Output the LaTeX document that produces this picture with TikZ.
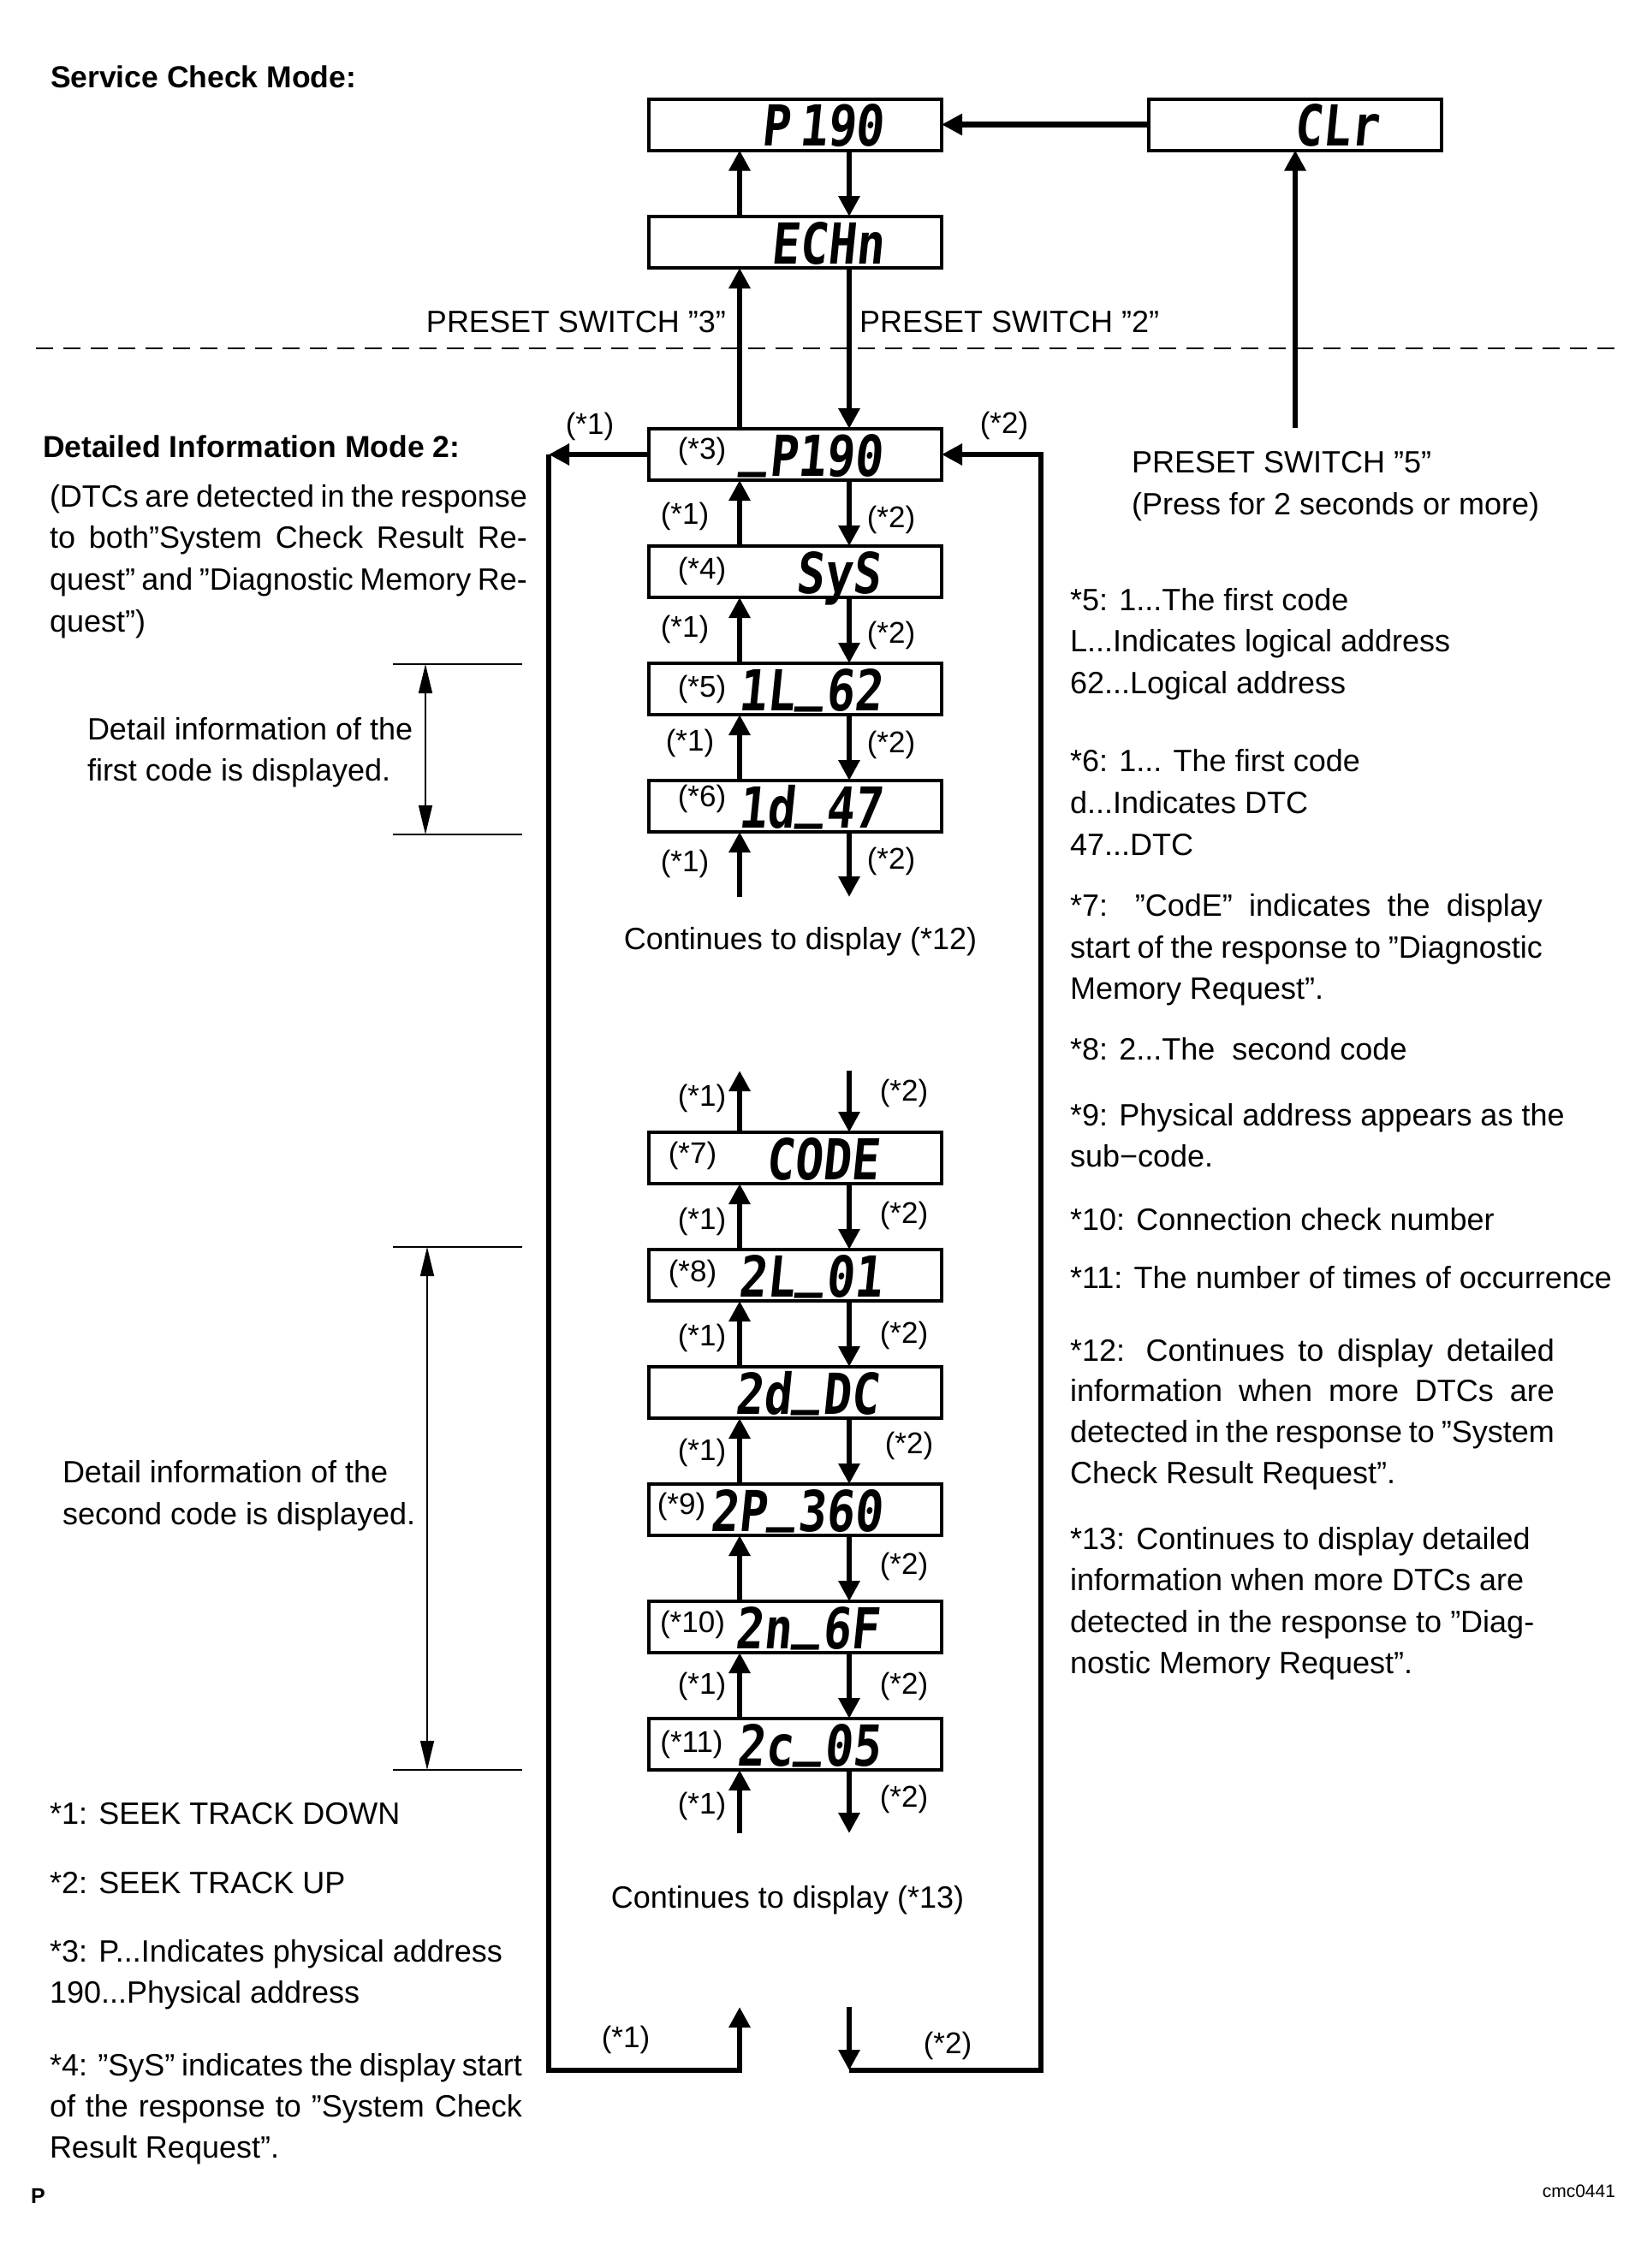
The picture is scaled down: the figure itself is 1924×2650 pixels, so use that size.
\documentclass[tikz,border=0pt]{standalone}
\usepackage{fontspec}
\setmainfont{Liberation Sans}
\newfontfamily\segfont[FakeSlant=0.1,FakeStretch=0.83]{DejaVu Sans Mono}
\usetikzlibrary{arrows.meta,calc}
\newcommand{\jline}[2]{\makebox[#1][s]{#2}}
\newcommand{\segthree}[5]{%
  \node[seg] (#1c) at (#2,#3) {#5};
  \node[seg] (#1b) at ($(#1c.base west)+(-1.5,-14)$) {\_};
  \node[seg] (#1a) at ($(#1b.base west)+(-1.5,14)$) {#4};}
\begin{document}
\begin{tikzpicture}[x=1pt,y=-1pt,
  every node/.style={inner sep=0pt,outer sep=0pt},
  body/.style={font=\fontsize{36}{43}\selectfont},
  tl/.style={body,anchor=base west},
  tr/.style={body,anchor=base east},
  tc/.style={body,anchor=base},
  hd/.style={font=\bfseries\fontsize{35.5}{43}\selectfont,anchor=base west},
  lbl/.style={font=\fontsize{35}{42}\selectfont,anchor=center},
  disp/.style={draw,line width=4pt,minimum width=342pt,minimum height=60pt},
  seg/.style={font=\segfont\bfseries\fontsize{66}{66}\selectfont,anchor=base east},
  arr/.style={line width=6.5pt,-{Triangle[length=24pt,width=24pt]}},
  wire/.style={line width=6.5pt,line join=miter},
  thinl/.style={line width=1.6pt},
  dim/.style={line width=1.6pt,{Triangle[length=34pt,width=16pt]}-{Triangle[length=34pt,width=16pt]}},
]
\fill[white] (0,0) rectangle (1924,2650);
\useasboundingbox (0,0) rectangle (1924,2650);

% helper coordinates
\coordinate (ux) at (864,0);
\coordinate (dx) at (992,0);
\coordinate (lx) at (641,0);
\coordinate (rx) at (1216,0);
\coordinate (ps5) at (1513,500);
\coordinate (c6) at (0,1048);
\coordinate (c7) at (0,1251);
\coordinate (c11) at (0,2142);
\coordinate (cbtop) at (0,2345);
\coordinate (cbot) at (0,2419);

% display boxes
\node[disp] (p190) at (929,145.5) {};
\node[disp] (clr) at (1512.5,145.5) {};
\node[disp] (echn) at (929,283) {};
\node[disp] (b3) at (929,531) {};
\node[disp] (b4) at (929,668) {};
\node[disp] (b5) at (929,805) {};
\node[disp] (b6) at (929,942) {};
\node[disp] (b7) at (929,1353) {};
\node[disp] (b8) at (929,1490) {};
\node[disp] (bdc) at (929,1627) {};
\node[disp] (b9) at (929,1764) {};
\node[disp] (b10) at (929,1901) {};
\node[disp] (b11) at (929,2038) {};

% display texts
\node[seg] (s0) at (1032,170.5) {P\,190};
\node[seg] (sclr) at (1610,170.5) {CLr};
\node[seg] (sech) at (1032,308) {ECHn};
\node[seg] (s3c) at (1030,556) {P190};
\node[seg] (s3b) at ($(s3c.base west)+(-1.5,-14)$) {\_};
\node[seg] (s4) at (1028,693) {SyS};
\segthree{s5}{1030}{830}{1L}{62}
\segthree{s6}{1030}{967}{1d}{47}
\node[seg] (s7) at (1026,1378) {CODE};
\segthree{s8}{1030}{1515}{2L}{01}
\segthree{sdc}{1026}{1652}{2d}{DC}
\segthree{s9}{1030}{1789}{2P}{360}
\segthree{s10}{1026}{1926}{2n}{6F}
\segthree{s11}{1028}{2063}{2c}{05}

% labels inside boxes
\node[lbl] at (820,527) {(*3)};
\node[lbl] at (820,667) {(*4)};
\node[lbl] at (820,805) {(*5)};
\node[lbl] at (820,933) {(*6)};
\node[lbl] at (809,1350) {(*7)};
\node[lbl] at (809,1488) {(*8)};
\node[lbl] at (796,1760) {(*9)};
\node[lbl] at (809,1898) {(*10)};
\node[lbl] at (808,2038) {(*11)};

% top connectors
\draw[arr] (echn.north -| ux) -- (p190.south -| ux);
\draw[arr] (p190.south -| dx) -- (echn.north -| dx);
\draw[arr,line width=7pt] (clr.west) -- (p190.east);
\draw[arr] (ps5) -- (clr.south -| ps5);
\draw[arr] (b3.north -| ux) -- (echn.south -| ux);
\draw[arr] (echn.south -| dx) -- (b3.north -| dx);

% chains
\foreach \a/\b in {b3/b4,b4/b5,b5/b6,b7/b8,b8/bdc,bdc/b9,b9/b10,b10/b11}{
  \draw[arr] (\b.north -| ux) -- (\a.south -| ux);
  \draw[arr] (\a.south -| dx) -- (\b.north -| dx);
}
\draw[arr] (c6 -| ux) -- (b6.south -| ux);
\draw[arr] (b6.south -| dx) -- (c6 -| dx);
\draw[arr] (b7.north -| ux) -- (c7 -| ux);
\draw[arr] (c7 -| dx) -- (b7.north -| dx);
\draw[arr] (c11 -| ux) -- (b11.south -| ux);
\draw[arr] (b11.south -| dx) -- (c11 -| dx);

% loops
\draw[arr] (b3.west) -- (b3.west -| lx);
\draw[wire,-{Triangle[length=24pt,width=24pt]}] (b3.west -| lx) -- (cbot -| lx) -- (cbot -| ux) -- (cbtop -| ux);
\draw[arr] (cbtop -| dx) -- (cbot -| dx);
\draw[wire,-{Triangle[length=24pt,width=24pt]}] (cbot -| dx) -- (cbot -| rx) -- (b3.east -| rx) -- (b3.east);

% dashed separator
\coordinate (dl) at (42,407);
\coordinate (dr) at (1889,407);
\draw[line width=2pt,dash pattern=on 20pt off 12pt] (dl) -- (dr);

% brackets
\coordinate (k1a) at (459,776); \coordinate (k1b) at (610,776);
\coordinate (k1c) at (459,975); \coordinate (k1d) at (610,975);
\draw[thinl] (k1a) -- (k1b);
\draw[thinl] (k1c) -- (k1d);
\draw[dim] (497,776) -- (497,975);
\coordinate (k2a) at (459,1457); \coordinate (k2b) at (610,1457);
\coordinate (k2c) at (459,2068); \coordinate (k2d) at (610,2068);
\draw[thinl] (k2a) -- (k2b);
\draw[thinl] (k2c) -- (k2d);
\draw[dim] (499,1457) -- (499,2068);

% seek labels
\node[lbl] at (689,498) {(*1)};
\node[lbl] at (1173,497) {(*2)};
\node[lbl] at (800,603) {(*1)};
\node[lbl] at (1041,607) {(*2)};
\node[lbl] at (800,735) {(*1)};
\node[lbl] at (1041,742) {(*2)};
\node[lbl] at (806,868) {(*1)};
\node[lbl] at (1041,870) {(*2)};
\node[lbl] at (800,1009) {(*1)};
\node[lbl] at (1041,1006) {(*2)};
\node[lbl] at (820,1283) {(*1)};
\node[lbl] at (1056,1277) {(*2)};
\node[lbl] at (820,1427) {(*1)};
\node[lbl] at (1056,1420) {(*2)};
\node[lbl] at (820,1563) {(*1)};
\node[lbl] at (1056,1560) {(*2)};
\node[lbl] at (820,1697) {(*1)};
\node[lbl] at (1062,1689) {(*2)};
\node[lbl] at (1056,1830) {(*2)};
\node[lbl] at (820,1970) {(*1)};
\node[lbl] at (1056,1970) {(*2)};
\node[lbl] at (820,2110) {(*1)};
\node[lbl] at (1056,2102) {(*2)};
\node[lbl] at (731,2383) {(*1)};
\node[lbl] at (1107,2390) {(*2)};

% headings and switch texts
\node[hd] at (59,102) {Service Check Mode:};
\node[tr] at (848,388) {PRESET SWITCH ”3”};
\node[tl] at (1004,388) {PRESET SWITCH ”2”};
\node[tl] at (1322,552) {PRESET SWITCH ”5”};
\node[tl] at (1322,601) {(Press for 2 seconds or more)};
\node[tc] at (935,1109) {Continues to display (*12)};
\node[tc] at (920,2229) {Continues to display (*13)};

% left column
\node[hd] at (50,534) {Detailed Information Mode 2:};
\node[tl] at (58,592) {\jline{558pt}{(DTCs are detected in the response}};
\node[tl] at (58,640) {\jline{558pt}{to both”System Check Result Re-}};
\node[tl] at (58,689) {\jline{558pt}{quest” and ”Diagnostic Memory Re-}};
\node[tl] at (58,738) {quest”)};
\node[tl] at (102,864) {Detail information of the};
\node[tl] at (102,912) {first code is displayed.};
\node[tl] at (73,1732) {Detail information of the};
\node[tl] at (73,1781) {second code is displayed.};
\node[tl] at (58,2131) {*1: SEEK TRACK DOWN};
\node[tl] at (58,2212) {*2: SEEK TRACK UP};
\node[tl] at (58,2292) {*3: P...Indicates physical address};
\node[tl] at (58,2340) {190...Physical address};
\node[tl] at (58,2425) {\jline{552pt}{*4: ”SyS” indicates the display start}};
\node[tl] at (58,2473) {\jline{552pt}{of the response to ”System Check}};
\node[tl] at (58,2521) {Result Request”.};
\node[font=\bfseries\fontsize{25}{30}\selectfont,anchor=base west] at (36,2574) {P};
\node[font=\fontsize{21}{25}\selectfont,anchor=base east] at (1887,2567) {cmc0441};

% right column
\node[tl] at (1250,713) {*5: 1...The first code};
\node[tl] at (1250,761) {L...Indicates logical address};
\node[tl] at (1250,810) {62...Logical address};
\node[tl] at (1250,901) {*6: 1... The first code};
\node[tl] at (1250,950) {d...Indicates DTC};
\node[tl] at (1250,999) {47...DTC};
\node[tl] at (1250,1070) {\jline{552pt}{*7: ”CodE” indicates the display}};
\node[tl] at (1250,1119) {\jline{552pt}{start of the response to ”Diagnostic}};
\node[tl] at (1250,1167) {Memory Request”.};
\node[tl] at (1250,1238) {*8: 2...The\ \ second code};
\node[tl] at (1250,1315) {*9: Physical address appears as the};
\node[tl] at (1250,1363) {sub−code.};
\node[tl] at (1250,1437) {*10: Connection check number};
\node[tl] at (1250,1505) {*11: The number of times of occurrence};
\node[tl] at (1250,1590) {\jline{566pt}{*12: Continues to display detailed}};
\node[tl] at (1250,1637) {\jline{566pt}{information when more DTCs are}};
\node[tl] at (1250,1685) {\jline{566pt}{detected in the response to ”System}};
\node[tl] at (1250,1733) {Check Result Request”.};
\node[tl] at (1250,1810) {*13: Continues to display detailed};
\node[tl] at (1250,1858) {information when more DTCs are};
\node[tl] at (1250,1907) {detected in the response to ”Diag-};
\node[tl] at (1250,1955) {nostic Memory Request”.};
\end{tikzpicture}
\end{document}
